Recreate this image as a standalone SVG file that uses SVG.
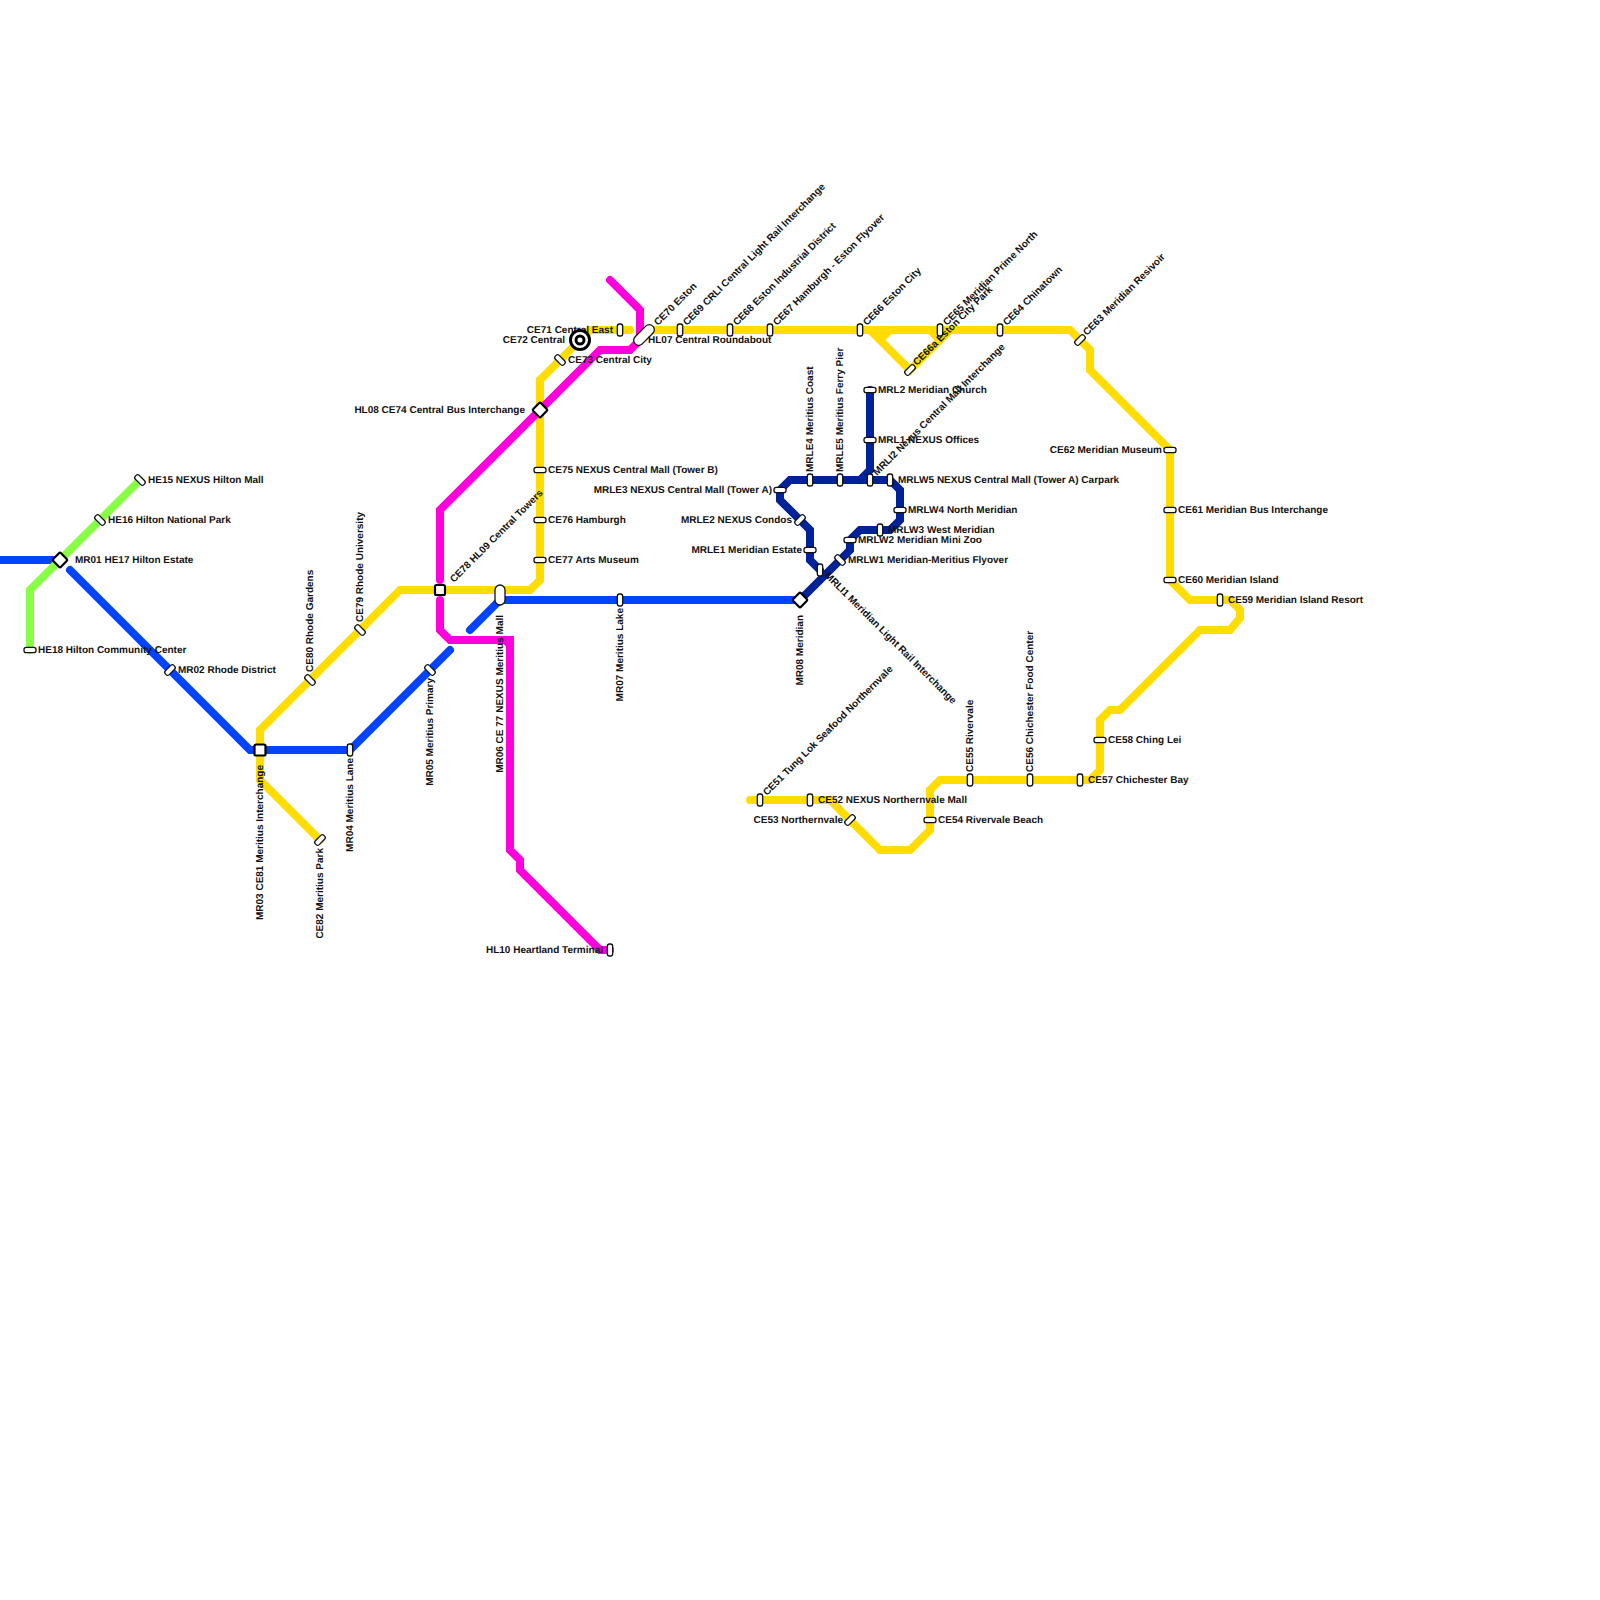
<svg xmlns="http://www.w3.org/2000/svg" width="1600" height="1600" viewBox="0 0 1600 1600">
<style>
.l{fill:none;stroke-width:8;stroke-linecap:round;stroke-linejoin:miter}
.y{stroke:#ffdd00}.m{stroke:#ff00dd}.b{stroke:#0044ff}.g{stroke:#88ff44}.n{stroke:#002299}
.s{fill:#fff;stroke:#111;stroke-width:1.3}
.i{fill:#fff;stroke:#000;stroke-width:2.2}
text{font-family:"Liberation Sans",Arial,sans-serif;font-size:10px;font-weight:700;fill:#111;text-rendering:geometricPrecision}
.e{text-anchor:end}
</style>
<defs>
<rect id="p" class="s" x="-2.7" y="-6" width="5.4" height="12" rx="2.2"/>
</defs>
<rect width="1600" height="1600" fill="#fff"/>
<g id="connectors">
<path class="l y" d="M260 750V730L400 590H530L540 580V380L570 350L590 330H630"/>
<path class="l y" d="M260 750V780L320 840"/>
<path class="l y" d="M650 330H1070L1090 350V370L1170 450V580L1190 600H1230L1240 610V618L1230 630H1200L1120 710H1110L1100 720V770L1090 780H940L930 790V830L910 850H880L830 800H750"/>
<path class="l y" d="M870 330L910 370L950 330M880 340L890 330M930 330L940 340"/>
<path class="l m" d="M610 280L640 310V340L630 350H600L440 510V580"/>
<path class="l m" d="M440 600V630L450 640H510V850L520 860V870L600 950H610M505 640L510 645"/>
<path class="l b" d="M0 560H60"/>
<path class="l b" d="M70 570L250 750H350L450 650"/>
<path class="l b" d="M470 630L500 600H800"/>
<path class="l g" d="M140 480L30 590V650"/>
<path class="l n" d="M800 600L850 550V540L860 530H890L900 520V490L890 480H790L780 490V500L810 530V560L820 570"/>
<path class="l n" d="M870 390V470L860 480"/>
</g>
<g id="HE15"><use href="#p" transform="translate(140 480) rotate(-45)"/><text x="148" y="482.500">HE15 NEXUS Hilton Mall</text></g>
<g id="HE16"><use href="#p" transform="translate(100 520) rotate(-45)"/><text x="108" y="522.500">HE16 Hilton National Park</text></g>
<g id="HE18"><use href="#p" transform="translate(30 650) rotate(90)"/><text x="38" y="652.500">HE18 Hilton Community Center</text></g>
<g id="MR01"><rect class="i" x="-5.500" y="-5.500" width="11" height="11" rx="1.500" transform="translate(60 560) rotate(45)"/><text x="75" y="562.500">MR01 HE17 Hilton Estate</text></g>
<g id="MR02"><use href="#p" transform="translate(170 670) rotate(45)"/><text x="178" y="672.500">MR02 Rhode District</text></g>
<g id="MR03"><rect class="i" x="-5.500" y="-5.500" width="11" height="11" rx="1.500" transform="translate(260 750)"/><text class="e" transform="translate(263 765) rotate(-90)">MR03 CE81 Meritius Interchange</text></g>
<g id="MR04"><use href="#p" transform="translate(350 750)"/><text class="e" transform="translate(353 758) rotate(-90)">MR04 Meritius Lane</text></g>
<g id="MR05"><use href="#p" transform="translate(430 670) rotate(-45)"/><text class="e" transform="translate(433 678) rotate(-90)">MR05 Meritius Primary</text></g>
<g id="MR06"><rect class="s" x="-5" y="-10" width="10" height="20" rx="5" transform="translate(500 595)"/><text class="e" transform="translate(503 615) rotate(-90)">MR06 CE 77 NEXUS Meritius Mall</text></g>
<g id="MR07"><use href="#p" transform="translate(620 600)"/><text class="e" transform="translate(623 608) rotate(-90)">MR07 Meritius Lake</text></g>
<g id="MR08"><rect class="i" x="-5.500" y="-5.500" width="11" height="11" rx="1.500" transform="translate(800 600) rotate(45)"/><text class="e" transform="translate(803 615) rotate(-90)">MR08 Meridian</text></g>
<g id="CE82"><use href="#p" transform="translate(320 840) rotate(45)"/><text class="e" transform="translate(323 848) rotate(-90)">CE82 Meritius Park</text></g>
<g id="CE80"><use href="#p" transform="translate(310 680) rotate(-45)"/><text transform="translate(313 672) rotate(-90)">CE80 Rhode Gardens</text></g>
<g id="CE79"><use href="#p" transform="translate(360 630) rotate(-45)"/><text transform="translate(363 622) rotate(-90)">CE79 Rhode University</text></g>
<g id="CE78"><rect class="i" x="-5" y="-5" width="10" height="10" rx="1.500" transform="translate(440 590)"/><text transform="translate(454 583) rotate(-45)">CE78 HL09 Central Towers</text></g>
<g id="CE77"><use href="#p" transform="translate(540 560) rotate(90)"/><text x="548" y="562.500">CE77 Arts Museum</text></g>
<g id="CE76"><use href="#p" transform="translate(540 520) rotate(90)"/><text x="548" y="522.500">CE76 Hamburgh</text></g>
<g id="CE75"><use href="#p" transform="translate(540 470) rotate(90)"/><text x="548" y="472.500">CE75 NEXUS Central Mall (Tower B)</text></g>
<g id="CE74"><rect class="i" x="-5.500" y="-5.500" width="11" height="11" rx="1.500" transform="translate(540 410) rotate(45)"/><text class="e" x="525" y="412.500">HL08 CE74 Central Bus Interchange</text></g>
<g id="CE73"><use href="#p" transform="translate(560 360) rotate(-45)"/><text x="568" y="362.500">CE73 Central City</text></g>
<g id="CE71"><use href="#p" transform="translate(620 330)"/><text class="e" x="613" y="332.500">CE71 Central East</text></g>
<g id="CE72"><text class="e" x="565" y="342.500">CE72 Central</text><circle cx="580" cy="340" r="9.500" fill="#fff" stroke="#000" stroke-width="3"/><circle cx="580" cy="340" r="4" fill="#fff" stroke="#000" stroke-width="3"/></g>
<g id="CE70"><rect class="s" x="-5" y="-12.500" width="10" height="25" rx="5" transform="translate(644 335) rotate(45)"/><text transform="translate(658 326) rotate(-45)">CE70 Eston</text><text x="648" y="342.500">HL07 Central Roundabout</text></g>
<g id="CE69"><use href="#p" transform="translate(680 330)"/><text transform="translate(687 326) rotate(-45)">CE69 CRLI Central Light Rail Interchange</text></g>
<g id="CE68"><use href="#p" transform="translate(730 330)"/><text transform="translate(737 326) rotate(-45)">CE68 Eston Industrial District</text></g>
<g id="CE67"><use href="#p" transform="translate(770 330)"/><text transform="translate(777 326) rotate(-45)">CE67 Hamburgh - Eston Flyover</text></g>
<g id="CE66"><use href="#p" transform="translate(860 330)"/><text transform="translate(867 326) rotate(-45)">CE66 Eston City</text></g>
<g id="CE66a"><use href="#p" transform="translate(910 370) rotate(45)"/><text transform="translate(917 366) rotate(-45)">CE66a Eston City Park</text></g>
<g id="CE65"><use href="#p" transform="translate(940 330)"/><text transform="translate(947 326) rotate(-45)">CE65 Meridian Prime North</text></g>
<g id="CE64"><use href="#p" transform="translate(1000 330)"/><text transform="translate(1007 326) rotate(-45)">CE64 Chinatown</text></g>
<g id="CE63"><use href="#p" transform="translate(1080 340) rotate(45)"/><text transform="translate(1087 336) rotate(-45)">CE63 Meridian Resivoir</text></g>
<g id="CE62"><use href="#p" transform="translate(1170 450) rotate(90)"/><text class="e" x="1162" y="452.500">CE62 Meridian Museum</text></g>
<g id="CE61"><use href="#p" transform="translate(1170 510) rotate(90)"/><text x="1178" y="512.500">CE61 Meridian Bus Interchange</text></g>
<g id="CE60"><use href="#p" transform="translate(1170 580) rotate(90)"/><text x="1178" y="582.500">CE60 Meridian Island</text></g>
<g id="CE59"><use href="#p" transform="translate(1220 600)"/><text x="1228" y="602.500">CE59 Meridian Island Resort</text></g>
<g id="CE58"><use href="#p" transform="translate(1100 740) rotate(90)"/><text x="1108" y="742.500">CE58 Ching Lei</text></g>
<g id="CE57"><use href="#p" transform="translate(1080 780)"/><text x="1088" y="782.500">CE57 Chichester Bay</text></g>
<g id="CE56"><use href="#p" transform="translate(1030 780)"/><text transform="translate(1033 772) rotate(-90)">CE56 Chichester Food Center</text></g>
<g id="CE55"><use href="#p" transform="translate(970 780)"/><text transform="translate(973 772) rotate(-90)">CE55 Rivervale</text></g>
<g id="CE54"><use href="#p" transform="translate(930 820) rotate(90)"/><text x="938" y="822.500">CE54 Rivervale Beach</text></g>
<g id="CE53"><use href="#p" transform="translate(850 820) rotate(45)"/><text class="e" x="843" y="822.500">CE53 Northernvale</text></g>
<g id="CE52"><use href="#p" transform="translate(810 800)"/><text x="818" y="802.500">CE52 NEXUS Northernvale Mall</text></g>
<g id="CE51"><use href="#p" transform="translate(760 800)"/><text transform="translate(767 796) rotate(-45)">CE51 Tung Lok Seafood Northernvale</text></g>
<g id="HL10"><use href="#p" transform="translate(610 950)"/><text class="e" x="603" y="952.500">HL10 Heartland Terminal</text></g>
<g id="MRL2"><use href="#p" transform="translate(870 390) rotate(90)"/><text x="878" y="392.500">MRL2 Meridian Church</text></g>
<g id="MRL1"><use href="#p" transform="translate(870 440) rotate(90)"/><text x="878" y="442.500">MRL1 NEXUS Offices</text></g>
<g id="MRLI2"><use href="#p" transform="translate(870 480)"/><text transform="translate(877 476) rotate(-45)">MRLI2 Nexus Central Mall Interchange</text></g>
<g id="MRLW5"><use href="#p" transform="translate(890 480)"/><text x="898" y="482.500">MRLW5 NEXUS Central Mall (Tower A) Carpark</text></g>
<g id="MRLW4"><use href="#p" transform="translate(900 510) rotate(90)"/><text x="908" y="512.500">MRLW4 North Meridian</text></g>
<g id="MRLW3"><use href="#p" transform="translate(880 530)"/><text x="888" y="532.500">MRLW3 West Meridian</text></g>
<g id="MRLW2"><use href="#p" transform="translate(850 540) rotate(90)"/><text x="858" y="542.500">MRLW2 Meridian Mini Zoo</text></g>
<g id="MRLW1"><use href="#p" transform="translate(840 560) rotate(-45)"/><text x="848" y="562.500">MRLW1 Meridian-Meritius Flyover</text></g>
<g id="MRLI1"><use href="#p" transform="translate(820 570)"/><text transform="translate(824 576) rotate(45)">MRLI1 Meridian Light Rail Interchange</text></g>
<g id="MRLE1"><use href="#p" transform="translate(810 550) rotate(90)"/><text class="e" x="802" y="552.500">MRLE1 Meridian Estate</text></g>
<g id="MRLE2"><use href="#p" transform="translate(800 520) rotate(45)"/><text class="e" x="792" y="522.500">MRLE2 NEXUS Condos</text></g>
<g id="MRLE3"><use href="#p" transform="translate(780 490) rotate(90)"/><text class="e" x="772" y="492.500">MRLE3 NEXUS Central Mall (Tower A)</text></g>
<g id="MRLE4"><use href="#p" transform="translate(810 480)"/><text transform="translate(813 472) rotate(-90)">MRLE4 Meritius Coast</text></g>
<g id="MRLE5"><use href="#p" transform="translate(840 480)"/><text transform="translate(843 472) rotate(-90)">MRLE5 Meritius Ferry Pier</text></g>
</svg>
